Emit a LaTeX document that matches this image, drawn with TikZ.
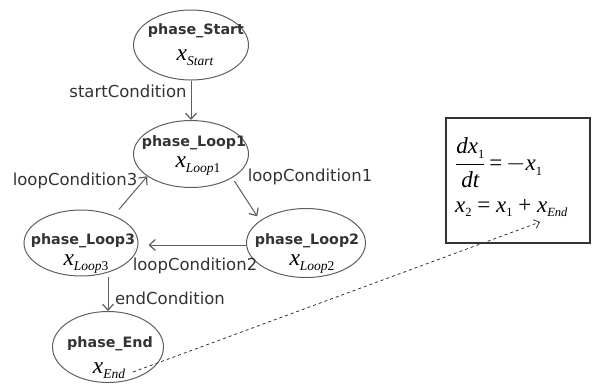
\documentclass[tikz,border=0pt]{standalone}
\usepackage{fontspec}
\setmainfont{DejaVu Sans}
\newfontfamily\tms{Liberation Serif}
\usetikzlibrary{arrows.meta,shapes.geometric}
\definecolor{txt}{HTML}{333333}
\definecolor{ln}{HTML}{5E5E5E}
\newcommand\vx[1]{{\tms\fontsize{23.5}{23.5}\selectfont\itshape x\raisebox{-0.45ex}{\fontsize{13.5}{13.5}\selectfont #1}}}
\newcommand\ssub[1]{\raisebox{-0.45ex}{\fontsize{12.5}{12.5}\selectfont #1}}
\begin{document}
\begin{tikzpicture}[x=1pt,y=-1pt,
  state/.style={draw=ln,line width=1pt,ellipse,inner sep=0pt},
  sname/.style={text=txt,inner sep=0pt,font=\fontsize{14.3}{16}\selectfont\bfseries},
  svar/.style={text=black,inner sep=0pt},
  trans/.style={draw=ln,line width=1pt,-{Straight Barb[length=6pt,width=11pt,line width=1.2pt]}},
  lbl/.style={text=txt,font=\fontsize{16.5}{18}\selectfont,inner sep=0pt},
  eq/.style={anchor=west,inner sep=0pt,text=black,font=\tms\fontsize{23}{25}\selectfont}]
\useasboundingbox (0,0) rectangle (602,389);
\node[state,minimum width=115pt,minimum height=70pt] (start) at (191,45) {};
\node[state,minimum width=115pt,minimum height=67pt] (loop1) at (191,154) {};
\node[state,minimum width=119pt,minimum height=69pt] (loop2) at (306,243) {};
\node[state,minimum width=114pt,minimum height=66pt] (loop3) at (81,243) {};
\node[state,minimum width=111pt,minimum height=71pt] (end) at (108,347) {};
\node[sname] (nstart) at (196,31) {phase\_Start};
\node[svar] (vstart) at (195,58) {\vx{Start}};
\node[sname] (nloop1) at (194,143) {phase\_Loop1};
\node[svar] (vloop1) at (198,166) {\vx{Loop\upshape 1}};
\node[sname] (nloop2) at (307,241) {phase\_Loop2};
\node[svar] (vloop2) at (312,264) {\vx{Loop\upshape 2}};
\node[sname] (nloop3) at (83,241) {phase\_Loop3};
\node[svar] (vloop3) at (86,264) {\vx{Loop\upshape 3}};
\node[sname] (nend) at (110,344) {phase\_End};
\node[svar] (vend) at (109,371) {\vx{End}};
\draw[trans] (start) -- (loop1);
\draw[trans,shorten <=4pt,shorten >=5pt] (loop1.-30) -- (loop2.154);
\draw[trans,shorten >=10pt] ([yshift=-2pt]loop2.west) -- ([yshift=-2pt]loop3.east);
\draw[trans,shorten <=8pt] (loop3.40) -- (loop1.207);
\draw[trans] (loop3.south -| end.north) -- (end.north);
\node[lbl] (lsc) at (128,91) {startCondition};
\node[lbl] (l1) at (310,177) {loopCondition1};
\node[lbl] (l2) at (195,266) {loopCondition2};
\node[lbl] (l3) at (75,181) {loopCondition3};
\node[lbl] (lec) at (170,298) {endCondition};
\node[draw=txt,line width=1.2pt,minimum width=144pt,minimum height=125pt,inner sep=0pt] (box) at (518,180.5) {};
\node[eq] (eq1) at (455,163) {$\displaystyle\frac{\hbox{\itshape dx\ssub{\upshape 1}}}{\hbox{\itshape dt}}$\,=\,$-$\hbox{\itshape x\ssub{\upshape 1}}};
\node[eq] (eq2) at (455,208) {\itshape x\ssub{\upshape 2} \upshape= \itshape x\ssub{\upshape 1} \upshape+ \itshape x\ssub{End}};
\coordinate (ds) at (133,372);
\coordinate (de) at (540,222);
\draw[txt,line width=0.8pt,dashed,-{Straight Barb[length=5pt,width=9pt]}] (ds) -- (de);
\end{tikzpicture}
\end{document}
